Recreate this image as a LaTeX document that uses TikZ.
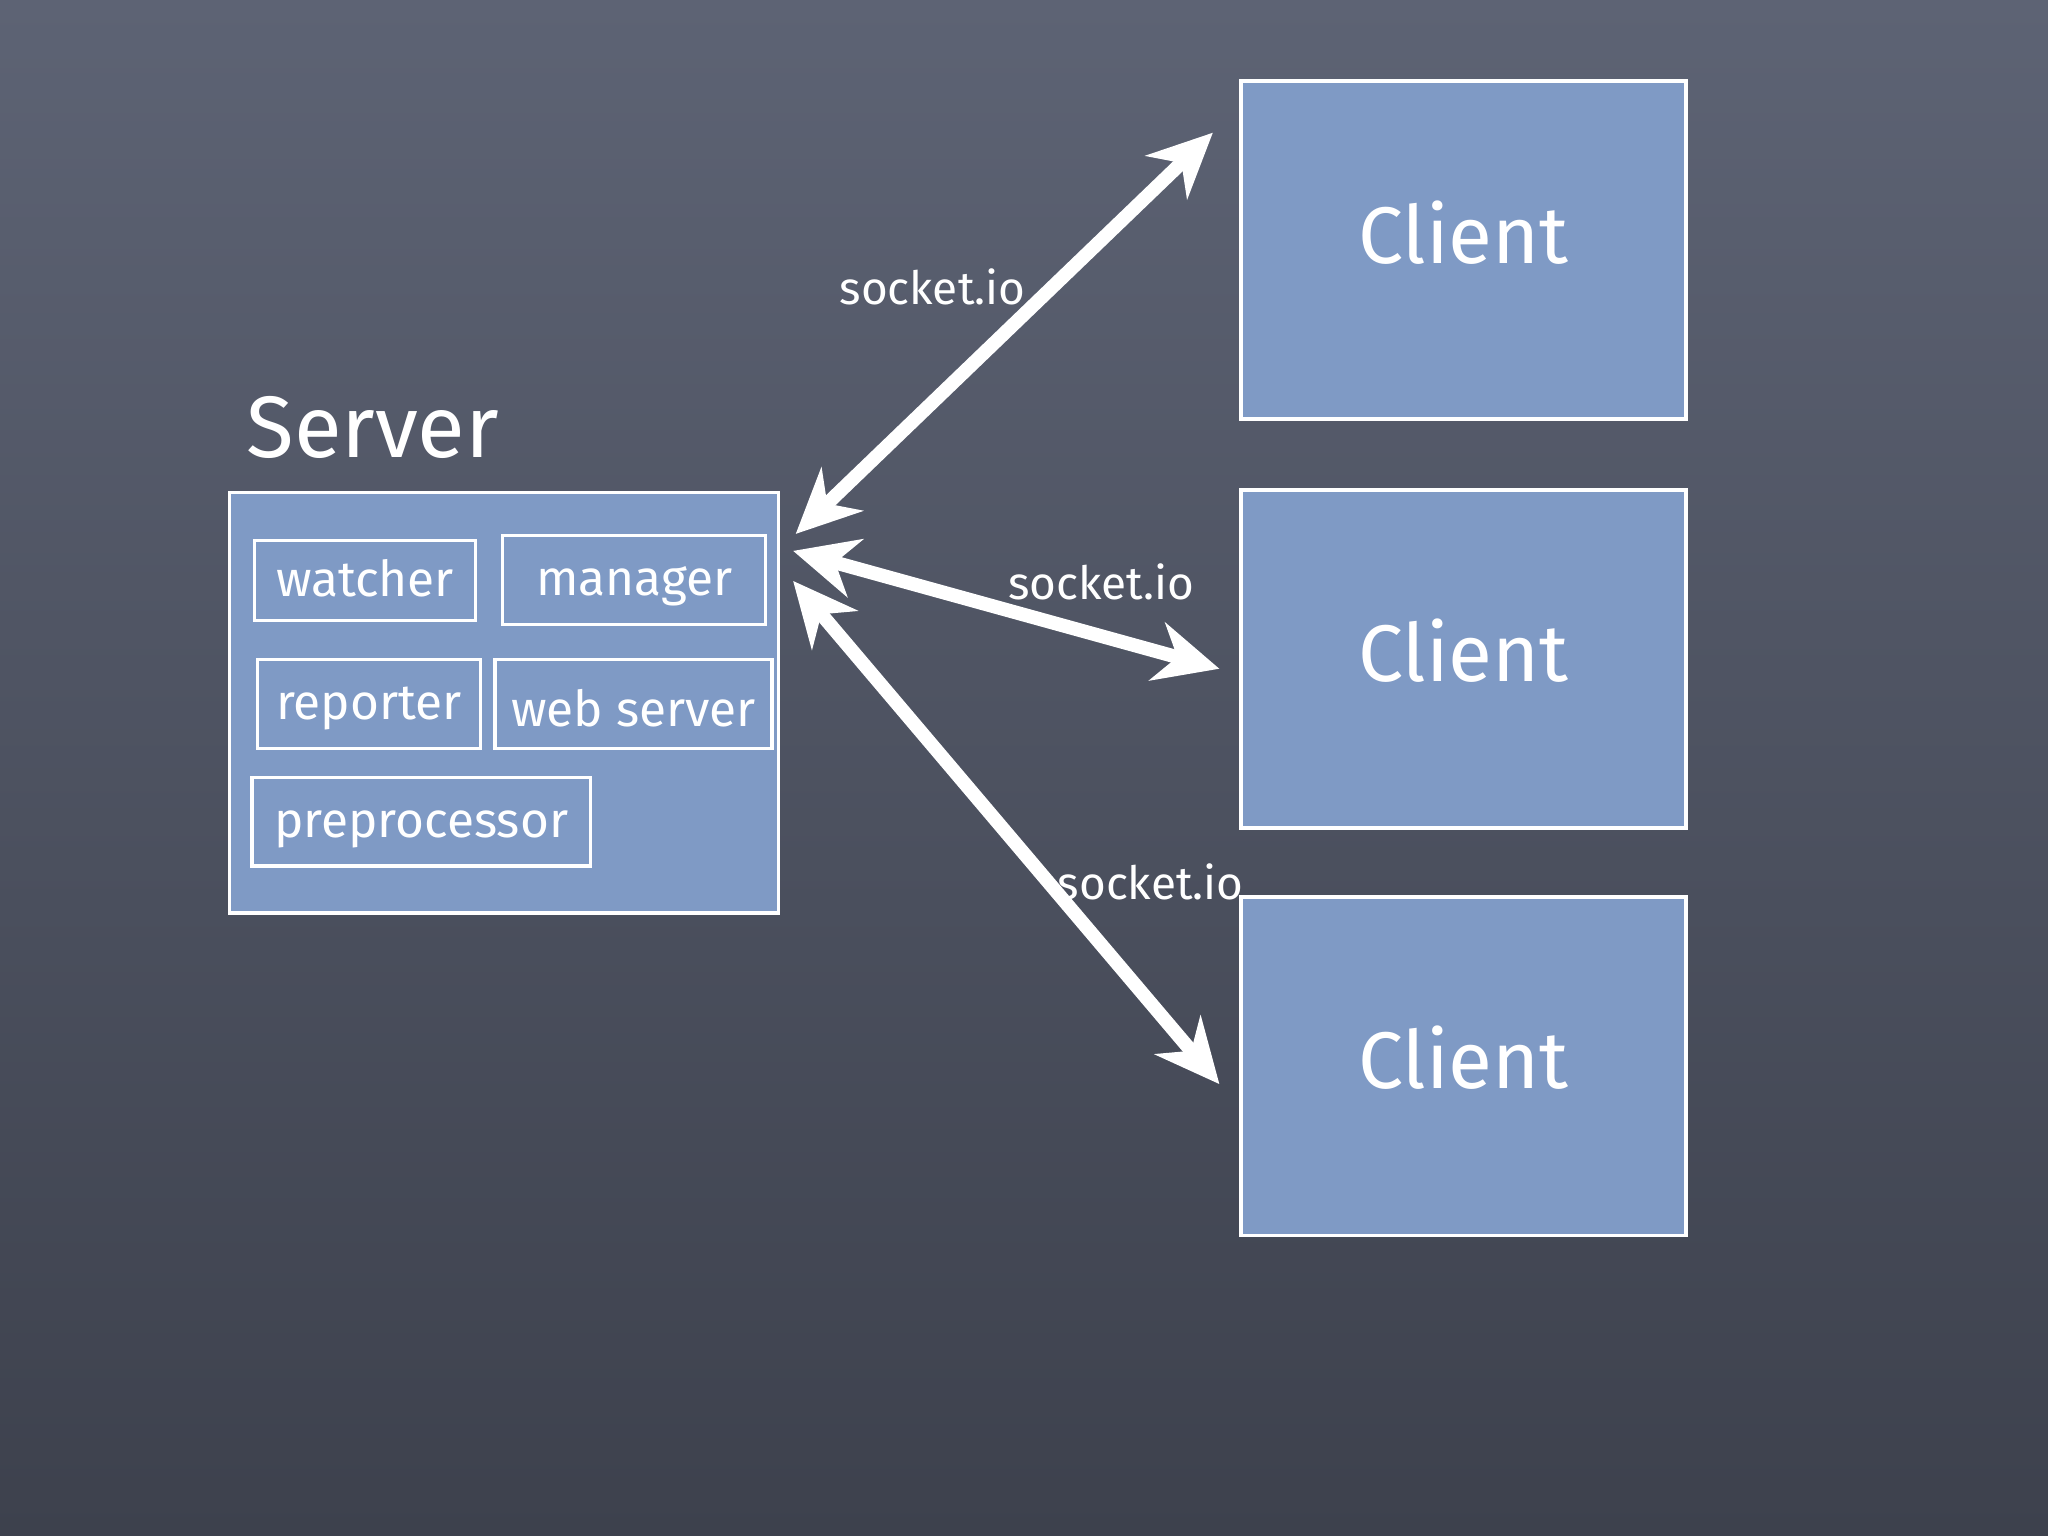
\documentclass[tikz,border=0pt]{standalone}
\usepackage{fontspec}
\setmainfont{Fira Sans}
\usetikzlibrary{arrows.meta}
\definecolor{boardtop}{HTML}{5D6374}
\definecolor{boardmid}{HTML}{4C5262}
\definecolor{boardbot}{HTML}{3D414D}
\definecolor{slide}{HTML}{7F9AC5}
\begin{document}
\begin{tikzpicture}[x=0.1mm,y=-0.1mm,
    box/.style={draw=white, fill=slide, line width=0.7pt, text=white, inner sep=0pt},
    part/.style={box, minimum height=6.8mm, text height=7.6pt, text depth=0.8pt, font=\fontsize{10.8}{12}\selectfont},
    client/.style={box, line width=0.8pt, minimum width=34.1mm, minimum height=25.9mm, font=\fontsize{17.5}{20}\selectfont},
    link/.style={white, line width=3pt, {Stealth[length=14pt,width=13pt,inset=4.5pt]}-{Stealth[length=14pt,width=13pt,inset=4.5pt]}},
    tag/.style={text=white, font=\fontsize{10}{12}\selectfont}]

    \shade[top color=boardtop, middle color=boardmid, bottom color=boardbot] (0,0) rectangle (1568,1176);
    \useasboundingbox (0,0) rectangle (1568,1176);

    \node[anchor=base west, text=white, inner sep=0pt, font=\fontsize{19}{22}\selectfont] (title) at (188,350) {Server};
    \node[box, minimum width=42mm, minimum height=32.2mm] (server) at (386,538) {};
    \node[part, minimum width=16.9mm, minimum height=6.1mm] (watcher) at (279.5,444.5) {watcher};
    \node[part, minimum width=20.1mm] (manager) at (485.5,444) {manager};
    \node[part, minimum width=17.1mm] (reporter) at (282.5,539) {reporter};
    \node[part, minimum width=21.2mm, text height=9.6pt, text depth=0pt] (web) at (485,539) {web server};
    \node[part, minimum width=25.9mm] (pre) at (322.5,629) {preprocessor};

    \node[client, text depth=2.8mm] (c1) at (1120.5,191.5) {Client};
    \node[client, text depth=1.3mm] (c2) at (1120.5,504.5) {Client};
    \node[client, text depth=1.4mm] (c3) at (1120.5,816.5) {Client};

    \draw[link] ([shift={(12,33)}]server.north east) -- ([shift={(-20,41)}]c1.north west);
    \draw[link] ([shift={(10,46)}]server.north east) -- ([shift={(-15,7.5)}]c2.west);
    \draw[link] ([shift={(10,69)}]server.north east) -- ([shift={(-15,13.5)}]c3.west);

    \node[tag, anchor=base] (l1) at (714,233) {socket.io};
    \node[tag, anchor=base] (l2) at (843,459) {socket.io};
    \node[tag, anchor=base] (l3) at (881,689) {socket.io};

\end{tikzpicture}
\end{document}
